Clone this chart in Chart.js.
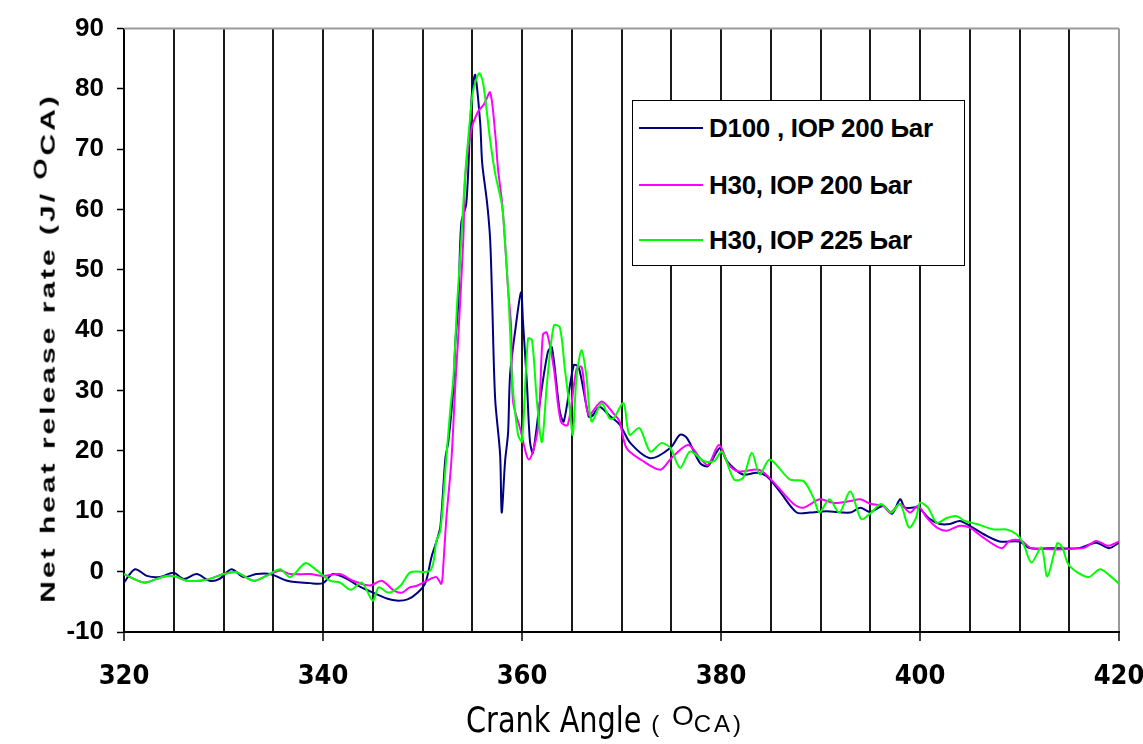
<!DOCTYPE html>
<html>
<head>
<meta charset="utf-8">
<script src="https://cdn.jsdelivr.net/npm/chart.js@4/dist/chart.umd.min.js"></script>
<style>
  html, body { margin: 0; padding: 0; background: #fff; }
  #wrap { position: relative; width: 1143px; height: 744px; overflow: hidden; }
  #c { position: absolute; left: 0; top: 0; }
  .ytitle { position: absolute; left: 45px; top: 348px; white-space: nowrap;
    transform: translate(-50%, -50%) rotate(-90deg) scaleX(1.5);
    font-family: "Liberation Sans", Arial, sans-serif; font-weight: bold; font-size: 20px; letter-spacing: 2px; color: #000; }
  .ytitle sup { font-size: 18px; }
  .xtitle { position: absolute; left: 605px; top: 720px; white-space: nowrap; transform: translate(-50%, -50%);
    color: #000; }
  .xtitle .main { font-family: "Liberation Sans Narrow", "DejaVu Sans Condensed", sans-serif; font-size: 32px; display: inline-block; transform: scaleY(1.1); }
  .xtitle .small { font-family: "Liberation Sans", Arial, sans-serif; font-size: 24px; letter-spacing: 3px; }
  .xtitle sup { font-family: "Liberation Sans", Arial, sans-serif; font-size: 28px; }
  .legend { position: absolute; left: 632px; top: 100px; width: 331px; height: 164px; border: 1.5px solid #000; background: #fff; }
  .li { position: absolute; left: 6px; height: 30px; display: flex; align-items: center; }
  .li .ln { width: 64px; height: 2px; margin-right: 6px; }
  .li span { font-family: "Liberation Sans", Arial, sans-serif; font-weight: bold; font-size: 26px; color: #000; letter-spacing: -0.3px; }
</style>
</head>
<body>
<div id="wrap">
  <canvas id="c" width="1143" height="744"></canvas>
  <div class="ytitle">Net heat release rate (J/ <sup>O</sup>CA)</div>
  <div class="xtitle"><span class="main">Crank Angle</span><span class="small"> ( </span><sup>O</sup><span class="small">CA)</span></div>
  <div class="legend" id="legend"></div>
</div>
<script>
// ---- Data ----
const seriesNames = ["D100 , IOP 200 Ьar", "H30, IOP 200 Ьar", "H30, IOP 225 Ьar"];
const xTickLabels = [320, 340, 360, 380, 400, 420];

const d100X = [320,321.1,322.3,323.6,325,326,327.3,328.6,329.6,330.8,332,333.3,334.7,336.4,338.7,340,341,342.4,343.5,345.2,346.5,347.4,348.5,349.5,350.3,350.9,351.4,351.8,352.3,352.6,353.1,353.3,353.6,353.9,354.4,354.8,355,355.3,355.8,356,356.5,356.8,357,357.3,357.8,357.96,358.3,358.6,358.8,359.3,359.9,360.1,360.5,360.8,361.1,361.8,362.6,363,363.8,364.2,365.2,365.7,366.7,367,367.8,368.7,369.8,370.9,372.9,374.9,375.9,376.6,377.9,378.7,379.9,380.6,382.2,383.6,384.6,385.9,387.6,388.9,390.6,393,394,395,396.3,397.2,398,398.5,399.8,401,402,403,404,405,406.4,408,410,411,413,416,417.7,419,420];
const d100Y = [-1.8,0.4,-0.7,-0.9,-0.2,-1.2,-0.4,-1.5,-1.2,0.4,-0.9,-0.4,-0.4,-1.5,-1.9,-1.9,-0.4,-1.2,-2.3,-3.6,-4.5,-4.8,-4.6,-3.5,-1.8,2.4,5,7.5,18.8,21.6,30.4,38,44.6,57.8,61,74.3,79.8,82.3,74.3,67.7,61,55,45,28.7,19.4,9.8,18.3,23,32.6,39.7,46.3,41.4,31,21.6,19.7,28.2,36.4,37.2,26.5,24.9,34.2,33.9,25.7,25.7,27.3,26,24.4,21.3,18.8,20.5,22.7,22.1,18,17.5,20.5,18.3,16.1,16.4,15.8,13.3,9.8,9.8,10,9.8,10.6,9.9,10.9,9.6,12,10.6,10.6,8.7,7.9,7.9,8.4,7.6,6.2,5,5,3.9,3.9,3.9,4.8,3.9,4.8];

const h30aX = [320,322,323.3,324.3,325.3,326.3,327.6,328.6,330,331.3,333,334.3,335.7,336.7,338.7,340,341.7,343,344.7,345.9,347.1,347.9,348.7,349.5,350.8,351.4,351.9,352.1,352.4,352.9,353.3,353.6,354.1,354.3,354.9,355.6,356.2,356.8,357.3,357.6,358,358.3,358.6,358.9,359.1,359.8,360.7,361.6,362.1,362.5,363.2,363.9,364.6,365.5,366,366.7,368,369.2,369.8,370.5,372,373.9,375,376.7,377.9,378.7,379.8,380.8,381.8,383.8,384.9,387.3,388.3,389.9,391.3,393,394,395.1,396.3,397,398,399,399.8,400.7,401.7,402.7,404,405,406.4,408.2,409,410.2,411.2,416.4,417.7,418.9,420];
const h30aY = [-0.4,-1.8,-1.2,-0.7,-0.9,-1.5,-1.5,-1.2,-0.4,-0.1,-1.5,-0.7,0.2,-0.4,-0.4,-0.7,-0.4,-1.5,-2.3,-1.5,-3.1,-3.5,-2.6,-2.3,-1.2,-0.9,-2,1.3,8.9,18.3,31,39.2,55,65.5,73.2,76.3,77.5,79.4,72.7,66.6,61.1,54.5,46.8,40.8,28.2,23.8,18.6,23.8,39.3,39.6,33.7,24.9,24.3,33.7,33.9,26,28.2,26.2,24.9,20.5,18.5,16.9,18.8,21,18.8,17.7,21,17.7,16.6,16.9,15.5,11.2,10.6,12,11.4,11.7,12,11.2,10.9,9.8,11.2,9.8,10.9,8.9,7.3,6.8,7.6,7.3,5.6,3.9,5.1,5.1,3.9,3.9,5.1,4.3,5];

const h30bX = [320,322,323.3,324.3,325.3,326.3,327.6,328.6,330,331.3,333,334.3,335.7,336.7,338.2,339,340.7,341.7,342.8,343.9,345,345.6,346.6,347.8,348.8,350.8,351.4,351.8,352.3,352.8,353.1,353.5,353.8,354.3,354.8,355.1,355.7,356.1,356.8,357.3,358,358.3,358.6,358.8,359,359.6,360,360.6,361,361.5,362,362.5,363.2,363.8,364.3,364.8,365.1,365.5,366,366.5,367,368,368.8,369.2,370.2,370.8,371.8,372.9,374,374.9,375.9,376.9,378.3,379.3,380.1,381.3,382.2,383.1,383.9,384.9,386.9,388.3,389.3,389.9,390.9,391.9,393,394.1,395.1,396.1,397.1,398,398.9,399.6,400,400.8,401.7,402.7,403.7,404.5,405.7,407.4,408.7,409.7,410.4,411.2,412.2,412.8,413.8,414.3,415,416.9,418.1,419.1,420];
const h30bY = [-0.4,-1.8,-1.2,-0.7,-0.9,-1.5,-1.5,-1.2,-0.4,-0.1,-1.5,-0.7,0.4,-0.9,1.4,0.7,-1.5,-1.8,-3,-1.8,-4.8,-2.6,-3.5,-2.3,-0.1,0.2,5.1,6.8,17,27,32,45,52.4,66,75.4,79.8,82.6,80.9,71.5,66,60.6,54.5,46.8,40,32,22.7,21.6,38.6,38.4,28.2,21.5,31,40.8,40.5,33.7,27,22.7,32.6,36.7,32,24.9,27.9,25.4,25.4,27.9,22.7,23.8,19.9,21.3,20.5,17.2,19.9,18.3,18.3,19.9,15.3,15.5,19.7,16.1,18.6,15.3,15,12.2,9.8,12,9.8,13.3,8.7,9.8,11.2,9.8,11.2,7.3,8.9,11.4,10.6,8.1,8.9,9.2,8.4,7.9,7,7,6.2,4.6,1.5,4,-0.8,4.7,4,1,-0.9,0.4,-0.7,-2];

const seriesColors = ["#000080", "#ff00ff", "#00ff00"];

function pts(xs, ys) { return xs.map((x, i) => ({ x: x, y: ys[i] })); }

// ---- legend (HTML, real text) ----
const legendEl = document.getElementById('legend');
const legendTops = [12, 69, 124];
seriesNames.forEach((n, i) => {
  const d = document.createElement('div');
  d.className = 'li';
  d.style.top = legendTops[i] + 'px';
  d.innerHTML = '<div class="ln" style="background:' + seriesColors[i] + '"></div><span>' + n + '</span>';
  legendEl.appendChild(d);
});

const frame = {
  id: 'frame',
  beforeDatasetsDraw(chart) {
    const a = chart.chartArea, ctx = chart.ctx;
    ctx.save();
    ctx.strokeStyle = '#9a9a9a';
    ctx.lineWidth = 2;
    ctx.beginPath();
    ctx.moveTo(a.left, a.top); ctx.lineTo(a.right, a.top);
    ctx.stroke();
    ctx.restore();
  }
};

new Chart(document.getElementById('c'), {
  type: 'line',
  data: {
    datasets: [
      { label: seriesNames[0], data: pts(d100X, d100Y), borderColor: seriesColors[0], borderWidth: 2, pointRadius: 0, tension: 0.3, order: 3 },
      { label: seriesNames[1], data: pts(h30aX, h30aY), borderColor: seriesColors[1], borderWidth: 2, pointRadius: 0, tension: 0.3, order: 2 },
      { label: seriesNames[2], data: pts(h30bX, h30bY), borderColor: seriesColors[2], borderWidth: 2, pointRadius: 0, tension: 0.3, order: 1 }
    ]
  },
  options: {
    responsive: false,
    animation: false,
    devicePixelRatio: 1,
    layout: { padding: { left: 0, right: 24, top: 25, bottom: 0 } },
    plugins: { legend: { display: false }, tooltip: { enabled: false } },
    scales: {
      x: {
        type: 'linear', min: 320, max: 420,
        afterFit(s) { s.height = 112; s.paddingRight = 0; s.paddingLeft = 0; },
        ticks: {
          stepSize: 5, autoSkip: false, maxRotation: 0, padding: 20, color: '#000',
          font: { family: "'Liberation Sans Narrow', 'DejaVu Sans Condensed', sans-serif", size: 27, weight: 'bold' },
          callback: v => (xTickLabels.includes(v) ? String(v) : '')
        },
        grid: {
          drawOnChartArea: true, tickLength: 9,
          color: c => (c.tick && c.tick.value === 420 ? '#9a9a9a' : '#1a1a1a'),
          lineWidth: 2,
          tickColor: c => (c.tick && c.tick.value % 20 === 0 ? '#000' : 'rgba(0,0,0,0)'),
          tickWidth: 1.5
        },
        border: { color: '#000', width: 2 }
      },
      y: {
        min: -10, max: 90,
        afterFit(s) { s.width = 124; },
        ticks: {
          stepSize: 10, padding: 13, color: '#000',
          font: { family: "'Liberation Sans', Arial, sans-serif", size: 26, weight: 'bold' }
        },
        grid: { drawOnChartArea: false, tickLength: 7, tickColor: '#000', tickWidth: 1.5 },
        border: { color: '#000', width: 2 }
      }
    }
  },
  plugins: [frame]
});
</script>
</body>
</html>
